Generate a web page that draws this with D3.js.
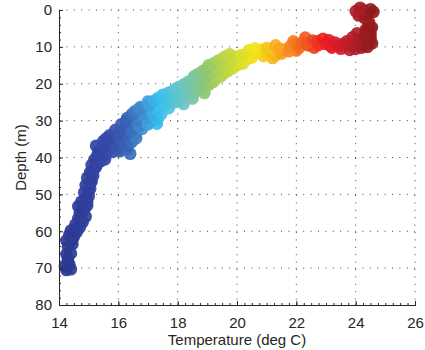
<!DOCTYPE html>
<html>
<head>
<meta charset="utf-8">
<script src="https://cdn.jsdelivr.net/npm/d3@7"></script>
<style>
  body { margin: 0; background: #fff; }
  text { font-family: "Liberation Sans", Arial, sans-serif; fill: #262626; }
</style>
</head>
<body>
<div id="chart"></div>
<script>
// temperature (deg C) and depth (m) of each sample
const temps = [14.25,14.4,14.2,14.35,14.3,14.3,14.25,14.4,14.3,14.45,14.25,14.45,14.35,14.5,14.6,14.4,14.55,14.7,14.55,14.8,
  14.75,14.65,14.9,14.7,14.8,14.85,14.65,14.95,14.75,14.95,14.9,15.0,15.0,14.85,15.05,15.05,14.9,15.1,14.95,15.15,
  15.1,15.05,15.2,15.25,15.1,15.3,15.4,15.2,15.45,15.55,15.3,15.6,15.35,15.7,15.8,16.0,16.05,16.3,16.4,15.25,
  15.55,15.9,16.2,16.3,15.85,15.5,15.75,16.1,16.45,15.6,15.7,16.0,16.35,16.6,16.25,16.6,15.9,16.2,16.5,16.05,
  16.45,16.8,16.1,16.4,16.75,16.7,17.0,17.3,16.25,16.6,17.1,16.3,16.65,16.95,17.3,16.45,16.8,17.2,16.55,16.85,
  17.15,17.45,16.7,17.3,16.75,17.05,17.4,17.7,17.0,17.6,17.2,17.55,17.9,18.2,17.35,17.75,18.05,17.5,17.85,18.2,
  18.5,17.7,18.05,18.4,17.9,18.25,18.6,18.9,18.05,18.4,18.75,18.2,18.55,18.9,18.35,18.7,19.05,18.5,18.85,19.2,
  18.55,18.95,19.3,18.7,19.05,19.45,18.85,19.2,19.55,19.0,19.35,19.7,19.05,19.45,19.85,19.2,19.6,20.0,19.35,19.75,
  20.1,19.5,19.9,20.2,20.35,19.6,20.0,20.5,19.75,20.15,20.55,20.9,21.2,20.7,21.0,21.3,20.4,20.8,21.15,21.5,
  20.6,21.0,21.6,22.0,21.3,21.45,21.75,21.8,21.9,22.0,22.1,22.3,22.2,22.4,22.6,22.35,22.55,22.7,22.75,22.9,
  23.0,23.1,23.2,23.15,23.3,23.45,23.5,23.55,23.7,23.7,23.8,23.85,23.9,24.0,24.0,24.1,24.2,24.3,24.4,24.55,
  24.2,24.5,24.05,24.3,24.45,24.5,24.35,24.35,24.55,24.45,24.45,24.3,24.1,24.25,24.4,24.0,24.25,24.5,24.6,24.15];
const depths = [70.5,70.3,69.5,69,68.3,67.5,66.2,66,64.2,63.5,62.5,62.2,61,61.5,60.2,59.8,59.5,59,58.2,57.5,
  57,56.5,56,55,54.5,54,53.2,53,52,52,51,50.5,49,49.5,48.5,47,47.5,46.5,45.5,45,
  44.5,44,43,42.5,42,41.5,41,40.5,40,40.5,39.2,39,38.2,37.8,38.5,37.5,38.3,37.8,39,36.8,
  37,36.8,36.5,36.8,36,35.5,35,35.2,35.8,34.8,34,33.8,34.2,33.5,33.2,34.8,32.5,32.2,31.8,32.8,
  32.8,32.2,31,30.3,30.5,31.5,31,30.8,30.2,30,30.2,29.3,28.8,29.3,29.5,28.3,28.2,28.8,27.5,27.2,
  27.8,28.2,26.8,27,26.3,25.8,26.3,26.6,24.8,25.5,24.6,24.5,25,25.5,23.8,24.2,24.6,23,23.2,23.6,
  24,22.4,22.6,23,21.5,21.8,22.2,22.5,20.8,21,21.5,20.2,20.5,20.8,19.5,20,20.3,18.8,19,19.5,
  18,18.2,18.5,17.3,17.6,18,16.5,16.8,17.2,15.8,16.2,16.5,15,15.3,15.8,14.5,14.7,15,13.8,14.2,
  13.7,13.2,13.5,14.5,13.2,12.6,12.6,12.9,12,12.2,12,12.5,13,11.5,11.8,12.2,10.9,10.8,11.2,11.8,
  10.4,10.3,10.8,11,9.6,10.5,11.2,9.8,8.5,9.2,10.2,7.5,8.8,9.6,10.2,9,8.3,8.5,9.5,7.8,
  9.2,8.2,10.2,9.6,8.8,9.8,10.5,9.2,8.5,9.5,10.8,9.8,7.4,10.5,9.6,8.6,10.2,9.5,10,9,
  7.8,7.6,6.3,7.2,8.5,6.5,5.2,6.2,4.7,4.2,3.3,2.2,1.5,1.2,1,0.3,0,-0.2,0.5,-0.6];

const xTicks = [14, 16, 18, 20, 22, 24, 26];
const yTicks = [0, 10, 20, 30, 40, 50, 60, 70, 80];

const width = 425, height = 350;
const margin = { left: 59, right: 10, top: 10, bottom: 45 };

const svg = d3.select('#chart').append('svg')
  .attr('width', width)
  .attr('height', height);

const x = d3.scaleLinear().domain([14, 26]).range([margin.left, width - margin.right]);
const y = d3.scaleLinear().domain([0, 80]).range([margin.top, height - margin.bottom]);

// jet-like colour ramp as it looks in the printed figure
const color = d3.scaleLinear()
  .domain([14.2, 15.5, 16.3, 16.8, 17.4, 18.2, 19.0, 19.8, 20.6, 21.4, 22.2, 23.0, 23.8, 24.6])
  .range(['#2b3990', '#3545a5', '#3a62b5', '#3f8fd0', '#36c0f0', '#6cc5c4', '#90c870',
          '#c8d93a', '#f2e41a', '#f8a81c', '#f26522', '#ed1c24', '#be1e2d', '#8b1a1a'])
  .clamp(true);

// dotted grid
const grid = svg.append('g').attr('stroke', '#444').attr('stroke-width', 1).attr('stroke-dasharray', '1,6.4');
grid.selectAll('line.v').data(xTicks.slice(1)).enter().append('line')
  .attr('x1', d => x(d)).attr('x2', d => x(d))
  .attr('y1', y(0)).attr('y2', y(80));
grid.selectAll('line.h').data(yTicks.slice(0, -1)).enter().append('line')
  .attr('x1', x(14)).attr('x2', x(26))
  .attr('y1', d => y(d)).attr('y2', d => y(d));

// samples
const pts = temps.map((t, i) => ({ t: t, d: depths[i] }));
svg.append('g').selectAll('circle')
  .data(pts)
  .enter()
  .append('circle')
  .attr('cx', d => x(d.t))
  .attr('cy', d => y(d.d))
  .attr('r', 6.3)
  .attr('fill', d => color(d.t))
  .attr('fill-opacity', 0.92);

// axes (ticks point inwards, MATLAB style)
const xAxis = svg.append('g').attr('transform', 'translate(0,' + y(80) + ')')
  .call(d3.axisBottom(x).tickValues(d3.range(14, 26.01, 0.25)).tickSize(-2).tickFormat(''));
xAxis.append('g').call(d3.axisBottom(x).tickValues(xTicks).tickSize(-4).tickPadding(10));
const yAxis = svg.append('g').attr('transform', 'translate(' + x(14) + ',0)')
  .call(d3.axisLeft(y).tickValues(d3.range(0, 80.01, 2)).tickSize(-2).tickFormat(''));
yAxis.append('g').call(d3.axisLeft(y).tickValues(yTicks).tickSize(-4).tickPadding(7));

svg.selectAll('.domain').attr('stroke', '#262626');
svg.selectAll('.tick line').attr('stroke', '#262626');
svg.selectAll('.tick text').attr('font-size', 15).attr('fill', '#262626')
  .style('font-family', '"Liberation Sans", Arial, sans-serif');
xAxis.selectAll('.tick text').attr('dy', '0.85em');

svg.append('text')
  .attr('x', (x(14) + x(26)) / 2)
  .attr('y', 345)
  .attr('text-anchor', 'middle')
  .attr('font-size', 15)
  .text('Temperature (deg C)');

svg.append('text')
  .attr('transform', 'translate(26,' + (y(0) + y(80)) / 2 + ') rotate(-90)')
  .attr('text-anchor', 'middle')
  .attr('font-size', 15)
  .text('Depth (m)');
</script>
</body>
</html>
